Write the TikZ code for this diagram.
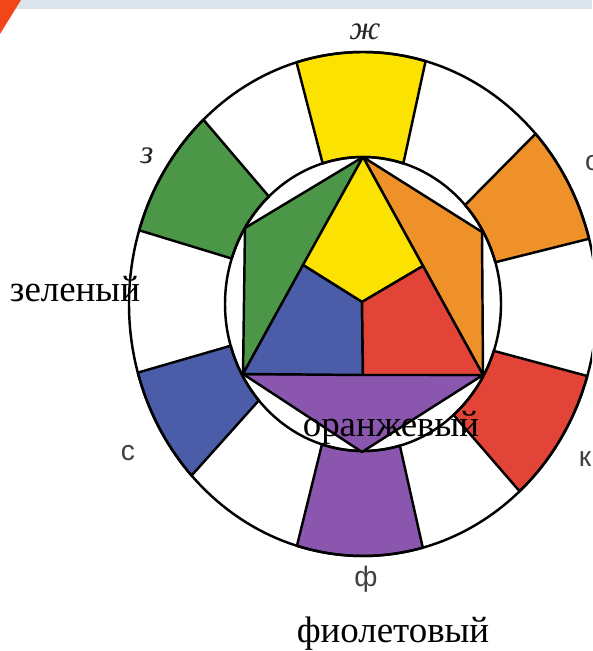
\documentclass[tikz,border=0pt]{standalone}
\usepackage{fontspec}
\setmainfont{Liberation Serif}
\newfontfamily\handfont{Liberation Sans}
\usepackage{tikz}
\usetikzlibrary{calc}

\definecolor{cyel}{HTML}{FBE200}
\definecolor{corg}{HTML}{EE9128}
\definecolor{cred}{HTML}{E24438}
\definecolor{cvio}{HTML}{8A56AE}
\definecolor{cblu}{HTML}{4B5DA9}
\definecolor{cgrn}{HTML}{4C9647}
\definecolor{cbar}{HTML}{DDE5EC}
\definecolor{cstripe}{HTML}{F2461A}

\begin{document}
\begin{tikzpicture}[x=0.02cm, y=0.02cm,
  rim/.style={draw=black, line width=1.4pt, line join=round},
  big/.style={font=\fontsize{21}{25}\selectfont, text=black,
              inner sep=0pt, anchor=base},
  hand/.style={font=\fontsize{19}{22}\selectfont\itshape,
               text=black!85, inner sep=0pt},
  letter/.style={font=\handfont\fontsize{16}{19}\selectfont,
                 text=black!75, inner sep=0pt}
]
\useasboundingbox (0,0) rectangle (592,651);
\clip (0,0) rectangle (592,651);
\fill[white] (0,0) rectangle (592,651);
\fill[cbar] (0,642) rectangle (592,651);
\fill[cstripe] (0,651) -- (21,651) -- (0,617) -- cycle;

\coordinate (c) at (363,347);
% outer ring with the six colour fields
\begin{scope}[shift={(c)}]
\foreach \col/\oa/\ob/\ia/\ib in {cyel/74.5/106.5/73/107,
    corg/15/42.5/16.5/42.3, cred/-48/-16.6/-49/-18.6,
    cvio/253.6/284.8/252.7/285.5, cblu/195.8/222.9/196.5/221,
    cgrn/133/163/133/162}{
  \filldraw[rim, fill=\col] (\oa:234 and 252)
    arc[start angle=\oa, end angle=\ob, x radius=234, y radius=252]
    -- (\ib:138 and 147)
    arc[start angle=\ib, end angle=\ia, x radius=138, y radius=147]
    -- cycle;
}
\draw[rim] (0,0) ellipse [x radius=234, y radius=252];
\draw[rim] (0,0) ellipse [x radius=138, y radius=147];
\end{scope}

% hexagon and triangle
\coordinate (tp) at (363,494);
\coordinate (ur) at (482,419);
\coordinate (lr) at (483,276);
\coordinate (bt) at (362,199);
\coordinate (ll) at (243,277);
\coordinate (ul) at (245,423);
\coordinate (ml) at (303,386);
\coordinate (mr) at (423,385);
\coordinate (mb) at (363,276);
\coordinate (m) at (362,349);
\filldraw[rim, fill=cgrn] (tp) -- (ul) -- (ll) -- cycle;
\filldraw[rim, fill=corg] (tp) -- (ur) -- (lr) -- cycle;
\filldraw[rim, fill=cvio] (ll) -- (lr) -- (bt) -- cycle;
\filldraw[rim, fill=cyel] (tp) -- (ml) -- (m) -- (mr) -- cycle;
\filldraw[rim, fill=cblu] (ll) -- (ml) -- (m) -- (mb) -- cycle;
\filldraw[rim, fill=cred] (lr) -- (mr) -- (m) -- (mb) -- cycle;

% letters round the ring
\node[hand] (zh) at (365,619) {ж};
\node[hand] (ze) at (147,495) {з};
\node[letter] (o) at (593,488) {о};
\node[letter] (k) at (585,192) {к};
\node[letter] (s) at (128,198) {с};
\node[letter] (f) at (366,72) {ф};

% names
\node[big] (green) at (75,349) {зеленый};
\node[big] (orange) at (391,214) {оранжевый};
\node[big] (violet) at (393,9) {фиолетовый};
\end{tikzpicture}
\end{document}
